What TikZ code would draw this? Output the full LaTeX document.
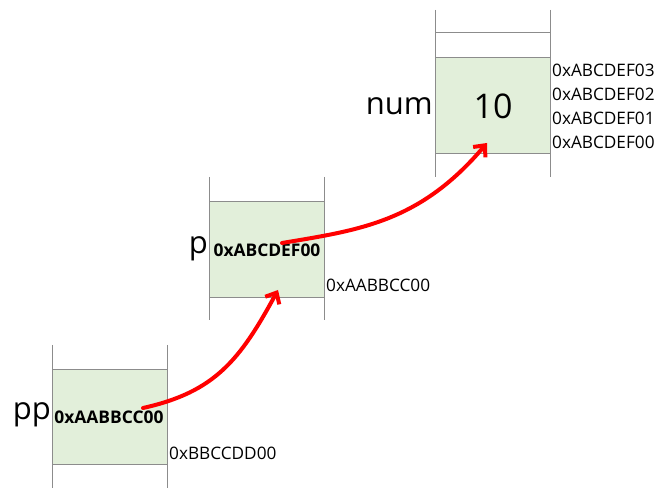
\documentclass[tikz,border=0pt]{standalone}
\usepackage{fontspec}
\setmainfont{Open Sans}
\usetikzlibrary{arrows.meta}
\definecolor{cellgreen}{HTML}{E2EFDA}
\definecolor{linegray}{HTML}{8C8C8C}
\begin{document}
\begin{tikzpicture}[x=1pt,y=-1pt,
  cell/.style={draw=linegray,line width=1pt,fill=cellgreen,minimum width=115pt,inner sep=0pt,anchor=north west},
  rail/.style={draw=linegray,line width=1pt},
  addr/.style={font=\fontsize{17.2}{19}\selectfont,inner sep=0pt,anchor=west},
  val/.style={font=\fontsize{17.4}{19}\selectfont\bfseries,inner sep=0pt},
  var/.style={font=\fontsize{31}{34}\selectfont,inner sep=0pt,anchor=east},
  ptr/.style={draw=red,line width=4pt,line cap=round,-{Straight Barb[length=9pt,width=16pt,line width=4pt]}}]
\useasboundingbox (0,0) rectangle (667,502);
% num stack
\node[cell,minimum height=96pt] (numc) at (435,57) {};
\draw[rail] (435,10) -- (435,177) (550,10) -- (550,177) (435,33) -- (550,33);
\node[font=\fontsize{34}{36}\selectfont,inner sep=0pt] (ten) at (493,106) {10};
\node[var] (numl) at (433,106) {num};
\node[addr] (a3) at (552,70) {0xABCDEF03};
\node[addr] (a2) at (552,94) {0xABCDEF02};
\node[addr] (a1) at (552,118) {0xABCDEF01};
\node[addr] (a0) at (552,142) {0xABCDEF00};
% p stack
\node[cell,minimum height=96pt] (pc) at (209,201) {};
\draw[rail] (209,177) -- (209,320) (324,177) -- (324,320);
\node[val] (pv) at (267,250) {0xABCDEF00};
\node[var] (pl) at (208,249) {p};
\node[addr] (pa) at (326,285) {0xAABBCC00};
% pp stack
\node[cell,minimum height=95pt] (ppc) at (52,369) {};
\draw[rail] (52,345) -- (52,488) (167,345) -- (167,488);
\node[val] (ppv) at (109,417) {0xAABBCC00};
\node[var] (ppl) at (51,415) {pp};
\node[addr] (ppa) at (169,453) {0xBBCCDD00};
% arrows
\coordinate (s1) at (143,408);
\coordinate (e1) at (278,290);
\coordinate (s2) at (282,243);
\coordinate (e2) at (487,143);
\draw[ptr] (s1) .. controls (215,392) and (240,360) .. (e1);
\draw[ptr] (s2) .. controls (360,230) and (420,222) .. (e2);
\end{tikzpicture}
\end{document}
